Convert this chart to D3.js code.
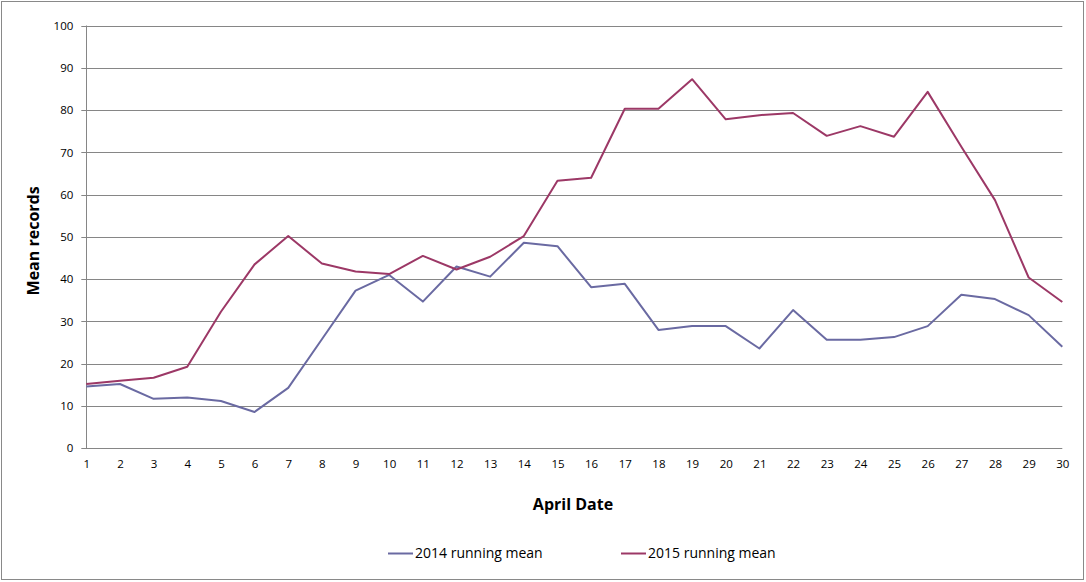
<html>
<head>
<meta charset="utf-8">
<script src="https://cdnjs.cloudflare.com/ajax/libs/d3/7.8.5/d3.min.js"></script>
<style>
  body { margin: 0; background: #fff; }
  text { font-family: "Open Sans", "DejaVu Sans", sans-serif; fill: #000; }
</style>
</head>
<body>
<div id="chartContainer"></div>
<script type="text/javascript">
  // April dates 1..30
  var days = d3.range(1, 31);

  // running means
  var mean2014 = [14.6, 15.2, 11.7, 12.0, 11.2, 8.6, 14.3, 25.8, 37.3, 41.0,
                  34.7, 43.0, 40.6, 48.6, 47.8, 38.1, 38.9, 28.0, 28.9, 28.9,
                  23.6, 32.7, 25.7, 25.7, 26.3, 28.9, 36.3, 35.3, 31.5, 24.0];
  var mean2015 = [15.2, 16.0, 16.7, 19.3, 32.3, 43.5, 50.2, 43.7, 41.8, 41.2,
                  45.5, 42.3, 45.3, 50.2, 63.3, 64.0, 80.3, 80.3, 87.3, 77.8,
                  78.8, 79.3, 73.9, 76.2, 73.7, 84.3, 71.3, 58.7, 40.4, 34.6];

  var yTicks = d3.range(0, 101, 10);
  var seriesNames = ["2014 running mean", "2015 running mean"];
  var seriesColors = ["#6A6AA2", "#9C3866"];

  var width = 1086, height = 582;
  var margin = { left: 86.3, right: 1086 - 1062.3, top: 25.5, bottom: 582 - 448.3 };

  var svg = d3.select("#chartContainer").append("svg")
    .attr("width", width)
    .attr("height", height);

  // outer chart border
  svg.append("rect")
    .attr("x", 1.5).attr("y", 1.5)
    .attr("width", 1082).attr("height", 578)
    .style("fill", "#fff")
    .style("stroke", "#898989")
    .style("stroke-width", 1);

  var x = d3.scaleLinear().domain([1, 30]).range([margin.left, width - margin.right]);
  var y = d3.scaleLinear().domain([0, 100]).range([height - margin.bottom, margin.top]);

  // horizontal gridlines (with the little outward tick on the left)
  svg.append("g")
    .selectAll("line")
    .data(yTicks)
    .enter()
    .append("line")
      .attr("x1", x(1) - 5)
      .attr("x2", x(30))
      .attr("y1", function (d) { return Math.round(y(d)) + 0.5; })
      .attr("y2", function (d) { return Math.round(y(d)) + 0.5; })
      .style("stroke", "#868686")
      .style("stroke-width", 1);

  // y axis line
  svg.append("line")
    .attr("x1", Math.round(x(1)) + 0.5).attr("x2", Math.round(x(1)) + 0.5)
    .attr("y1", y(100)).attr("y2", y(0))
    .style("stroke", "#868686");

  // y tick labels
  var yAxis = d3.axisLeft(y).tickValues(yTicks).tickSize(0).tickPadding(13);
  var gy = svg.append("g")
    .attr("transform", "translate(" + x(1) + ",0)")
    .call(yAxis);
  gy.select(".domain").remove();
  gy.selectAll("text")
    .style("font-size", "11.5px")
    .style("font-family", "\"Open Sans\", sans-serif");

  // x tick labels
  var xAxis = d3.axisBottom(x).tickValues(days).tickSize(0).tickPadding(12)
    .tickFormat(d3.format("d"));
  var gx = svg.append("g")
    .attr("transform", "translate(0," + y(0) + ")")
    .call(xAxis);
  gx.select(".domain").remove();
  gx.selectAll("text")
    .style("font-size", "11.5px")
    .style("font-family", "\"Open Sans\", sans-serif");

  // the two series
  var line = d3.line()
    .x(function (d, i) { return x(days[i]); })
    .y(function (d) { return y(d); });

  [mean2014, mean2015].forEach(function (s, i) {
    svg.append("path")
      .datum(s)
      .attr("d", line)
      .style("fill", "none")
      .style("stroke", seriesColors[i])
      .style("stroke-width", 2)
      .style("stroke-linejoin", "round");
  });

  // axis titles
  svg.append("text")
    .attr("transform", "translate(39," + (y(50) + 4) + ") rotate(-90)")
    .attr("text-anchor", "middle")
    .style("font-size", "16px")
    .style("font-weight", "bold")
    .text("Mean records");

  svg.append("text")
    .attr("x", 573)
    .attr("y", 510)
    .attr("text-anchor", "middle")
    .style("font-size", "16px")
    .style("font-weight", "bold")
    .text("April Date");

  // legend
  var legendX = [388, 621];
  var legend = svg.append("g");
  seriesNames.forEach(function (name, i) {
    legend.append("line")
      .attr("x1", legendX[i]).attr("x2", legendX[i] + 25)
      .attr("y1", 553.5).attr("y2", 553.5)
      .style("stroke", seriesColors[i])
      .style("stroke-width", 2);
    legend.append("text")
      .attr("x", legendX[i] + 27)
      .attr("y", 558)
      .style("font-size", "14px")
      .text(name);
  });
</script>
</body>
</html>
